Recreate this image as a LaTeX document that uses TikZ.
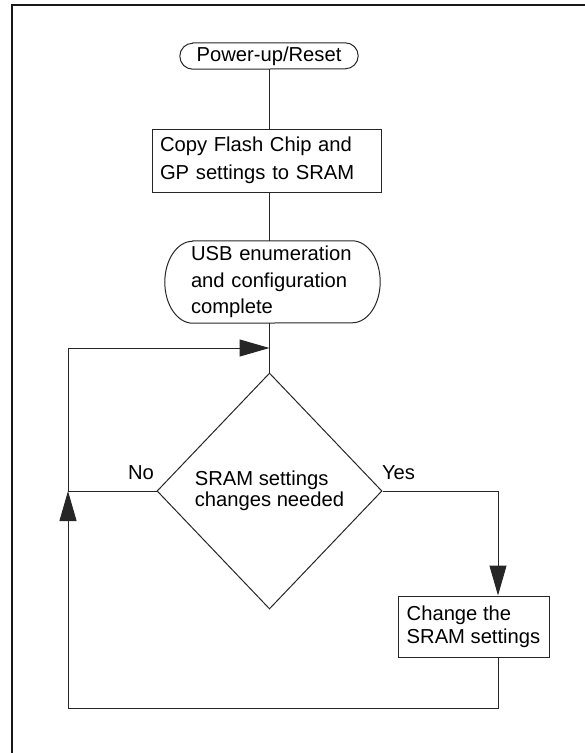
\documentclass[tikz,border=0pt]{standalone}
\usepackage{fontspec}
\setmainfont{Liberation Sans}
\usetikzlibrary{shapes.geometric,arrows.meta,calc}
\begin{document}
\begin{tikzpicture}[x=1pt,y=-1pt,
  ln/.style={draw=black!85,line width=1pt},
  txt/.style={font=\fontsize{20.2}{#1}\selectfont},
  txt/.default=28,
  boxnode/.style={draw=black!85,line width=1pt,align=left,inner ysep=0pt},
  tipend/.style={-{Triangle[length=30pt,width=17pt]}},
]
\useasboundingbox (0,0) rectangle (585,753);
\draw[line width=1.7pt,black!90] (585,5) -- (12,5) -- (12,753);

% nodes
\node[txt,inner sep=0pt,minimum width=178pt,minimum height=26pt] (pwr) at (269,56) {Power-up/Reset};
\node[txt=28,boxnode,minimum width=229pt,minimum height=63pt,inner xsep=8pt,text width=213pt] (copy) at (266.5,160.5) {Copy Flash Chip and\\GP settings to SRAM};
\node[txt=26.5,align=left,inner ysep=0pt,inner xsep=26pt,text width=163pt,minimum width=215pt,minimum height=82pt] (usb) at (272.5,282) {USB enumeration\\and configuration\\complete};
\node[txt=20.5,draw=black!85,line width=1pt,diamond,align=left,inner sep=0pt,minimum width=225pt,minimum height=236pt] (dia) at (269.5,491) {SRAM settings\\changes needed};
\node[txt=23,boxnode,minimum width=151pt,minimum height=61pt,inner xsep=4pt] (chg) at (473.5,626.5) {Change the\\SRAM settings};
\node[txt,anchor=base,inner sep=0pt] (no) at (141,479) {No};
\node[txt,anchor=base,inner sep=0pt] (yes) at (398.5,479) {Yes};

% stadium outlines
\draw[ln] ($(pwr.north west)+(13,0)$) -- ($(pwr.north east)+(-13,0)$)
  arc[start angle=90,end angle=-90,x radius=13pt,y radius=13pt]
  -- ($(pwr.south west)+(13,0)$)
  arc[start angle=270,end angle=90,x radius=13pt,y radius=13pt] -- cycle;
\draw[ln] ($(usb.north west)+(28,0)$) -- ($(usb.north east)+(-28,0)$)
  arc[start angle=90,end angle=-90,x radius=28pt,y radius=41pt]
  -- ($(usb.south west)+(28,0)$)
  arc[start angle=270,end angle=90,x radius=28pt,y radius=41pt] -- cycle;

% coordinates
\coordinate (jn) at (68,491);
\coordinate (jtop) at (269.5,348);
\coordinate (bl) at (68,708);
\coordinate (yr) at (498,491);

% connectors
\draw[ln] (dia.north |- pwr.south) -- (dia.north |- copy.north);
\draw[ln] (dia.north |- copy.south) -- (dia.north |- usb.north);
\draw[ln] (dia.north |- usb.south) -- (dia.north);
\draw[ln] (dia.west) -- (jn);
\draw[ln,tipend] (bl) -- (jn);
\draw[ln,tipend] (jn) |- (jtop);
\draw[ln,tipend] (dia.east) -- (yr) -- (yr |- chg.north);
\draw[ln] (yr |- chg.south) |- (bl);
\end{tikzpicture}
\end{document}
